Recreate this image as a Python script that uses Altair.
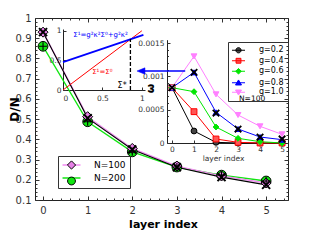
import altair as alt
import pandas as pd

# ---------------- data ----------------
layer_index = [0, 1, 2, 3, 4, 5]
dn_theory = [0.930, 0.505, 0.350, 0.262, 0.213, 0.175]
dn_n100 = [0.930, 0.512, 0.355, 0.268, 0.219, 0.184]
dn_n200 = [0.860, 0.487, 0.338, 0.263, 0.223, 0.194]
n_labels = ["N=100", "N=200"]

g_labels = ["g=0.2", "g=0.4", "g=0.6", "g=0.8", "g=1.0"]
omega_g02 = [0.00083, 0.00018, 0.00001, 0.0, 0.0, 0.0]
omega_g04 = [0.00083, 0.00047, 0.00006, 0.00001, 0.0, 0.0]
omega_g06 = [0.00083, 0.00077, 0.00024, 0.00007, 0.00002, 0.0]
omega_g08 = [0.00083, 0.00106, 0.00046, 0.00021, 0.00009, 0.00005]
omega_g10 = [0.00083, 0.00130, 0.00073, 0.00042, 0.00025, 0.00013]
omega_theory_g08 = [0.00083, 0.00106, 0.00045, 0.00021, 0.00009, 0.00006]

sigma0_blue = [0.0, 1.02]
sigma1_blue = [0.47, 0.93]
sigma0_red = [0.0, 1.0]
sigma1_red = [0.0, 1.0]
sigma_star = 0.855
sigma_star_top = 0.86

eq_blue_text = "Σ¹=g²κ²Σ⁰+g²κ²"
eq_red_text = "Σ¹=Σ⁰"
star_text = "Σ*"
legend_note = "N=100"
arrow_omega = 0.00108

# ---------------- styling ----------------
W, H = 253, 182
FONT = "DejaVu Sans"
GREEN = "#11e611"
VIOLET_LINE = "#f28cf2"
VIOLET_FILL = "#e680e6"
BLUE = "#0000ff"
G_COLORS = ["#000000", "#ff0000", "#00e600", "#0000ff", "#ff80ff"]
G_FILLS = ["#444444", "#ff5555", "#00e600", "#0000ff", "#ff80ff"]
G_SHAPES = ["circle", "square", "diamond", "triangle-up", "triangle-down"]
X_PATH = "M-1,-1L1,1M-1,1L1,-1"
PLUS_PATH = "M-1,0L1,0M0,-1L0,1"


def sc(domain, rng):
    return alt.Scale(domain=domain, range=rng, nice=False, zero=False)


MX = sc([-0.18, 5.49], [0, W])
MY = sc([0.1, 1.0], [H, 0])
AX = sc([0.0, 1.04], [28, 110])
AY = sc([0.0, 1.03], [72, 11])
BX = sc([-0.227, 5.27], [132, W])
BY = sc([0.0, 0.00155], [125, 21.7])


def enc(xf, yf, xs, ys):
    return dict(x=alt.X(xf, type="quantitative", scale=xs, axis=None),
                y=alt.Y(yf, type="quantitative", scale=ys, axis=None))


layers = []

# ---------------- main panel ----------------
main_df = pd.DataFrame({"layer": layer_index, "theory": dn_theory,
                        "n100": dn_n100, "n200": dn_n200})
mc = alt.Chart(main_df)
layers += [
    mc.mark_line(color=GREEN, strokeWidth=1.3).encode(**enc("layer", "n200", MX, MY)),
    mc.mark_line(color=VIOLET_LINE, strokeWidth=1.3).encode(**enc("layer", "n100", MX, MY)),
    mc.mark_line(color="black", strokeWidth=1.1).encode(**enc("layer", "theory", MX, MY)),
    mc.mark_point(shape="circle", size=95, filled=True, fill=GREEN, stroke="black",
                  strokeWidth=1, opacity=1).encode(**enc("layer", "n200", MX, MY)),
    mc.mark_point(shape="diamond", size=100, filled=True, fill=VIOLET_FILL, stroke="black",
                  strokeWidth=1, opacity=1).encode(**enc("layer", "n100", MX, MY)),
    mc.mark_point(shape=PLUS_PATH, size=64, filled=False, stroke="black",
                  strokeWidth=1.1, opacity=1).encode(**enc("layer", "n200", MX, MY)),
    mc.mark_point(shape=X_PATH, size=64, filled=False, stroke="black",
                  strokeWidth=2, opacity=1).encode(**enc("layer", "theory", MX, MY)),
]

# ---------------- inset 1 ----------------
blue_df = pd.DataFrame({"s0": sigma0_blue, "s1": sigma1_blue})
red_df = pd.DataFrame({"s0": sigma0_red, "s1": sigma1_red})
star_df = pd.DataFrame({"s0": [sigma_star, sigma_star], "s1": [0.0, sigma_star_top]})
layers += [
    alt.Chart(red_df).mark_line(color="#ff0000", strokeWidth=1).encode(**enc("s0", "s1", AX, AY)),
    alt.Chart(blue_df).mark_line(color=BLUE, strokeWidth=1.8).encode(**enc("s0", "s1", AX, AY)),
    alt.Chart(star_df).mark_line(color="black", strokeWidth=1.3, strokeDash=[4, 2]).encode(**enc("s0", "s1", AX, AY)),
]
txt_df = pd.DataFrame({
    "s0": [0.13, 0.37, 0.75],
    "s1": [0.93, 0.30, 0.06],
    "t": [eq_blue_text, eq_red_text, star_text],
})
for i, (fs, col) in enumerate([(7, BLUE), (7, "#ff0000"), (8, "black")]):
    layers.append(
        alt.Chart(txt_df.iloc[[i]]).mark_text(fontSize=fs, color=col, align="left" if i < 2 else "center",
                                              baseline="middle", font=FONT)
        .encode(text="t:N", **enc("s0", "s1", AX, AY)))

# ---------------- inset 2 ----------------
om_df = pd.DataFrame({
    "layer": layer_index * 5,
    "g": [g for g in g_labels for _ in layer_index],
    "omega": omega_g02 + omega_g04 + omega_g06 + omega_g08 + omega_g10,
})
th_df = pd.DataFrame({"layer": layer_index, "omega": omega_theory_g08})
gcol = alt.Color("g:N", scale=alt.Scale(domain=g_labels, range=G_COLORS), legend=None)
layers += [
    alt.Chart(om_df).mark_line(strokeWidth=1).encode(color=gcol, **enc("layer", "omega", BX, BY)),
    alt.Chart(om_df).mark_point(size=34, strokeWidth=1, opacity=1).encode(
        shape=alt.Shape("g:N", scale=alt.Scale(domain=g_labels, range=G_SHAPES), legend=None),
        fill=alt.Fill("g:N", scale=alt.Scale(domain=g_labels, range=G_FILLS), legend=None),
        stroke=alt.Stroke("g:N", scale=alt.Scale(domain=g_labels, range=G_COLORS), legend=None),
        **enc("layer", "omega", BX, BY)),
    alt.Chart(th_df).mark_point(shape=X_PATH, size=42, filled=False, stroke="black",
                                strokeWidth=1.8, opacity=1).encode(**enc("layer", "omega", BX, BY)),
]
arrow_df = pd.DataFrame({"layer": [0.6, -1.41], "omega": [arrow_omega, arrow_omega]})
layers += [
    alt.Chart(arrow_df).mark_line(color=BLUE, strokeWidth=1.5).encode(**enc("layer", "omega", BX, BY)),
    alt.Chart(arrow_df.iloc[[1]]).mark_point(shape="M-1,0L1,-0.8L1,0.8Z", size=64, filled=True,
                                              fill=BLUE, stroke=BLUE, strokeWidth=0.5, opacity=1)
    .encode(**enc("layer", "omega", BX, BY)),
]
note_df = pd.DataFrame({"layer": [3.64], "omega": [0.00066], "t": [legend_note]})
layers.append(alt.Chart(note_df).mark_text(fontSize=7.5, color="black", font=FONT, baseline="middle")
              .encode(text="t:N", **enc("layer", "omega", BX, BY)))

# ---------------- legends ----------------
g_leg_paths = [
    "M-1.74,0L1.74,0M-0.7,0A0.7,0.7,0,1,0,0.7,0A0.7,0.7,0,1,0,-0.7,0Z",
    "M-1.74,0L1.74,0M-0.65,-0.65L0.65,-0.65L0.65,0.65L-0.65,0.65Z",
    "M-1.74,0L1.74,0M0,-0.75L0.75,0L0,0.75L-0.75,0Z",
    "M-1.74,0L1.74,0M0,-0.75L0.8,0.6L-0.8,0.6Z",
    "M-1.74,0L1.74,0M0,0.75L0.8,-0.6L-0.8,-0.6Z",
]
g_leg = alt.Legend(title=None, orient="none", legendX=193, legendY=24, padding=3.75, rowPadding=0.5,
                   strokeColor="#333333", labelFont=FONT, labelFontSize=8, labelColor="black",
                   labelOffset=16, symbolSize=56, symbolStrokeWidth=1, symbolOffset=2.25,
                   symbolOpacity=1)
gleg_df = pd.DataFrame({"g": g_labels})
layers.append(
    alt.Chart(gleg_df).transform_filter("false").mark_point(filled=False, opacity=1).encode(
        shape=alt.Shape("g:N", scale=alt.Scale(domain=g_labels, range=g_leg_paths), legend=g_leg),
        stroke=alt.Stroke("g:N", scale=alt.Scale(domain=g_labels, range=G_COLORS), legend=g_leg),
        fill=alt.Fill("g:N", scale=alt.Scale(domain=g_labels, range=G_FILLS), legend=g_leg),
    ))

n_common = dict(title=None, orient="none", legendX=23, legendY=138, padding=4.5, rowPadding=3,
                labelFont=FONT, labelFontSize=9, labelColor="black", labelOffset=18,
                symbolSize=56, symbolOffset=4.5, symbolOpacity=1)
n_leg_line = alt.Legend(strokeColor="#333333", symbolStrokeWidth=1.5, **n_common)
n_leg_mark = alt.Legend(labelExpr="''", symbolStrokeWidth=1, **n_common)
nleg_df = pd.DataFrame({"n": n_labels})
layers.append(
    alt.Chart(nleg_df).transform_filter("false").mark_point(filled=False, opacity=1).encode(
        shape=alt.Shape("n:N", scale=alt.Scale(domain=n_labels, range=["M-2.4,0L2.4,0", "M-2.4,0L2.4,0"]),
                        legend=n_leg_line),
        stroke=alt.Stroke("n:N", scale=alt.Scale(domain=n_labels, range=[VIOLET_LINE, GREEN]), legend=n_leg_line),
    ))
layers.append(
    alt.Chart(nleg_df).transform_filter("false").mark_point(filled=False, opacity=1).encode(
        shape=alt.Shape("n:N", scale=alt.Scale(domain=n_labels, range=[
            "M0,-1.1L1.1,0L0,1.1L-1.1,0Z",
            "M-1.05,0A1.05,1.05,0,1,0,1.05,0A1.05,1.05,0,1,0,-1.05,0Z"]), legend=n_leg_mark),
        fill=alt.Fill("n:N", scale=alt.Scale(domain=n_labels, range=[VIOLET_FILL, GREEN]), legend=n_leg_mark),
        stroke=alt.Stroke("n:N", scale=alt.Scale(domain=n_labels, range=["black", "black"]), legend=n_leg_mark),
    ))

# ---------------- axes (each on an empty guide layer) ----------------
dummy = pd.DataFrame({"v": [0.0]})


def axis_layer(ch, scale, **kw):
    base = dict(grid=False, domain=False, labels=False, ticks=False, title=None,
                tickColor="#333333", domainColor="#222222", labelColor="#333333", labelFont=FONT)
    base.update(kw)
    E = alt.X if ch == "x" else alt.Y
    return alt.Chart(dummy).transform_filter("false").mark_rule().encode(
        **{ch: E("v:Q", scale=scale, axis=alt.Axis(**base))})


mx_major = [0, 1, 2, 3, 4, 5]
mx_minor = [round(0.2 * i, 1) for i in range(28)]
my_major = [round(0.1 * i, 1) for i in range(1, 11)]
my_minor = [round(0.1 + 0.02 * i, 2) for i in range(46)]

layers += [
    axis_layer("x", MX, orient="bottom", offset=-4, ticks=True, tickSize=4, values=mx_major,
               labels=True, labelPadding=5, labelFontSize=10),
    axis_layer("x", MX, orient="bottom", offset=-2, ticks=True, tickSize=2, values=mx_minor),
    axis_layer("x", MX, orient="top", offset=-4, ticks=True, tickSize=4, values=mx_major),
    axis_layer("x", MX, orient="top", offset=-2, ticks=True, tickSize=2, values=mx_minor),
    axis_layer("y", MY, orient="left", offset=-4, ticks=True, tickSize=4, values=my_major,
               labels=True, labelPadding=4, labelFontSize=10, format=".1~f"),
    axis_layer("y", MY, orient="left", offset=-2, ticks=True, tickSize=2, values=my_minor),
    axis_layer("y", MY, orient="right", offset=-4, ticks=True, tickSize=4, values=my_major),
    axis_layer("y", MY, orient="right", offset=-2, ticks=True, tickSize=2, values=my_minor),
    axis_layer("x", MX, orient="bottom", values=mx_major, title="layer index", titleFontSize=11,
               titleFontWeight="bold", titleColor="black", titleX=128, titleY=24, titleBaseline="middle",
               titleFont=FONT),
    axis_layer("y", MY, orient="left", values=my_major, title="D/N", titleFontSize=12,
               titleFontWeight="bold", titleColor="black", titleX=-21, titleY=91, titleBaseline="middle",
               titleAngle=270, titleFont=FONT),
    # inset 1
    axis_layer("x", AX, orient="bottom", offset=-(H - 72), domain=True, values=[0, 0.5, 1],
               labels=True, labelFontSize=7.5, labelPadding=4, format="~g"),
    axis_layer("x", AX, orient="bottom", offset=-(H - 72) - 3, ticks=True, tickSize=3, values=[0, 0.5, 1]),
    axis_layer("y", AY, orient="left", offset=-28, domain=True, values=[0, 0.5, 1],
               labels=True, labelFontSize=7.5, labelPadding=2, format="~g"),
    axis_layer("y", AY, orient="left", offset=-31, ticks=True, tickSize=3, values=[0, 0.5, 1]),
    # inset 2
    axis_layer("x", BX, orient="bottom", offset=-(H - 125), domain=True, values=mx_major,
               labels=True, labelFontSize=7.5, labelPadding=2, title="layer index", titleFontSize=7.5,
               titleFontWeight="normal", titleColor="#333333", titleX=188, titleY=15,
               titleBaseline="middle", titleFont=FONT),
    axis_layer("x", BX, orient="bottom", offset=-(H - 125) - 3, ticks=True, tickSize=3, values=mx_major),
    axis_layer("y", BY, orient="left", offset=-132, domain=True, values=[0, 0.0005, 0.001, 0.0015],
               labels=True, labelFontSize=7.5, labelPadding=3, format=".4~f", title="ω",
               titleFontSize=11, titleFontWeight="bold", titleColor="black", titleX=-17, titleY=70,
               titleBaseline="middle", titleAngle=270, titleFont=FONT),
    axis_layer("y", BY, orient="left", offset=-135, ticks=True, tickSize=3,
               values=[0, 0.0005, 0.001, 0.0015]),
    axis_layer("y", BY, orient="left", offset=-133.5, ticks=True, tickSize=1.5,
               values=[round(0.0001 * i, 4) for i in range(16)]),
]

chart = (
    alt.layer(*layers)
    .resolve_scale(x="independent", y="independent", color="independent", shape="independent",
                   fill="independent", stroke="independent")
    .properties(width=W, height=H, autosize=alt.AutoSizeParams(type="none"),
                padding={"left": 27, "top": 10, "right": 24, "bottom": 32})
    .configure(font=FONT)
    .configure_view(stroke="#222222", strokeWidth=1)
)

chart.save("out.html", embed_options={"renderer": "svg", "actions": False})
